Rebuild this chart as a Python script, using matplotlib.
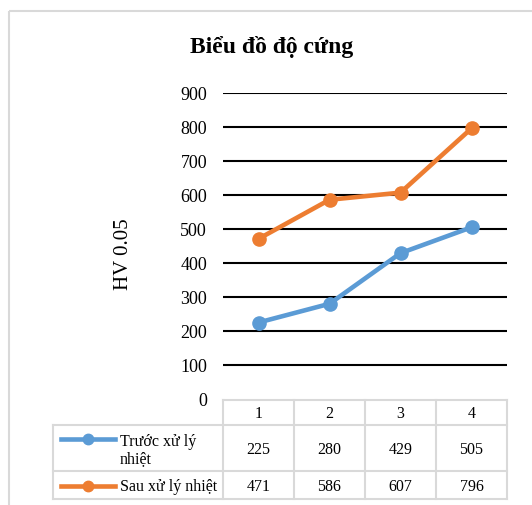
import matplotlib.pyplot as plt

plt.rcParams['font.family'] = ['Liberation Serif', 'DejaVu Serif']

# Dữ liệu độ cứng
mau = [1, 2, 3, 4]
truoc = [225, 280, 429, 505]
sau = [471, 586, 607, 796]
ten_truoc = 'Trước xử lý\nnhiệt'
ten_sau = 'Sau xử lý nhiệt'
mau_truoc = '#5B9BD5'
mau_sau = '#ED7D31'
vien = '#d9d9d9'

W, H = 532, 506
fig = plt.figure(figsize=(W / 100, H / 100), dpi=100)

# lớp nền theo pixel
bg = fig.add_axes([0, 0, 1, 1])
bg.set_xlim(0, W)
bg.set_ylim(H, 0)
bg.axis('off')
bg.add_patch(plt.Rectangle((8.5, 12), 600, 600, fill=False, ec=vien, lw=1.5))

# biểu đồ chính
ax = fig.add_axes([223 / W, 1 - 400 / H, (507 - 223) / W, (400 - 94) / H])
ax.patch.set_alpha(0)
ax.set_xlim(0.5, 4.5)
ax.set_ylim(0, 900)
ax.set_yticks(range(0, 901, 100))
ax.set_xticks([])
ax.grid(axis='y', color='black', lw=1.5)
ax.get_ygridlines()[0].set_visible(False)
ax.set_axisbelow(True)
for s in ax.spines.values():
    s.set_visible(False)
ax.tick_params(axis='y', length=0, pad=11.5, labelsize=13)

ax.plot(mau, truoc, color=mau_truoc, lw=3.3, marker='o', ms=9.5, clip_on=False)
ax.plot(mau, sau, color=mau_sau, lw=3.3, marker='o', ms=9.5, clip_on=False)

fig.text(272 / W, 1 - 47.5 / H, 'Biểu đồ độ cứng', weight='bold', size=17,
         ha='center', va='center')
fig.text(124 / W, 1 - 254 / H, 'HV 0.05', rotation=90, size=15,
         ha='center', va='center')


# bảng dữ liệu bên dưới
def px(v):
    return bg.transData.inverted().transform(ax.transData.transform((v, 0)))[0]


cot = [px(v - 0.5) for v in mau] + [px(mau[-1] + 0.5)]
trai = 53
hang = [401, 426, 472, 500]

bg.plot([cot[0], cot[-1]], [hang[0], hang[0]], color=vien, lw=1.5)
for y in hang[1:]:
    bg.plot([trai, cot[-1]], [y, y], color=vien, lw=1.5)
bg.plot([trai, trai], [hang[1], hang[-1]], color=vien, lw=1.5)
for x in cot:
    bg.plot([x, x], [hang[0], hang[-1]], color=vien, lw=1.5)

for i, m in enumerate(mau):
    xc = (cot[i] + cot[i + 1]) / 2
    bg.text(xc, 414, str(m), size=11.5, ha='center', va='center')
    bg.text(xc, 450, str(truoc[i]), size=11.5, ha='center', va='center')
    bg.text(xc, 487, str(sau[i]), size=11.5, ha='center', va='center')

for y_line, y_txt, ten, c in [(440, 450.5, ten_truoc, mau_truoc), (487, 487, ten_sau, mau_sau)]:
    bg.plot([61, 115], [y_line, y_line], color=c, lw=3.3)
    bg.plot([88], [y_line], color=c, marker='o', ms=7.5)
    bg.text(120, y_txt, ten, size=11.5, ha='left', va='center', linespacing=1.15)

plt.savefig('out.png', dpi=100)
